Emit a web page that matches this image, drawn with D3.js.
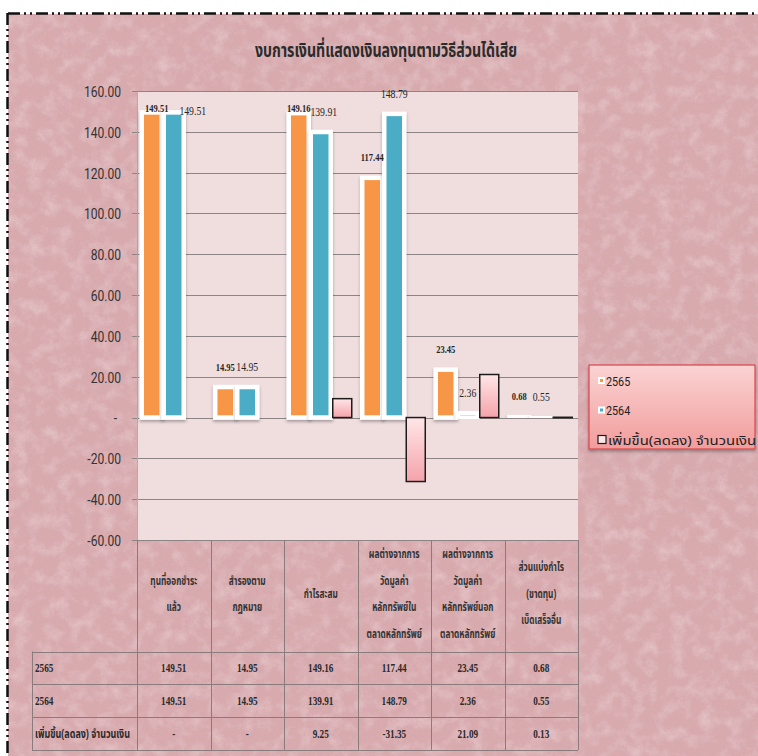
<!DOCTYPE html>
<html>
<head>
<meta charset="utf-8">
<script src="https://cdn.jsdelivr.net/npm/d3@7"></script>
<style>
  html, body { margin: 0; padding: 0; background: #fff; }
  svg { display: block; }
</style>
</head>
<body>
<div id="chart"></div>
<script>
// data
var categories = ["c1", "c2", "c3", "c4", "c5", "c6"];
var headerLines = [
    ["ทุนที่ออกชำระ", "แล้ว"],
    ["สำรองตาม", "กฎหมาย"],
    ["กำไรสะสม"],
    ["ผลต่างจากการ", "วัดมูลค่า", "หลักทรัพย์ใน", "ตลาดหลักทรัพย์"],
    ["ผลต่างจากการ", "วัดมูลค่า", "หลักทรัพย์นอก", "ตลาดหลักทรัพย์"],
    ["ส่วนแบ่งกำไร", "(ขาดทุน)", "เบ็ดเสร็จอื่น"]
];
var seriesNames = ["2565", "2564", "เพิ่มขึ้น(ลดลง) จำนวนเงิน"];
var values2565 = [149.51, 14.95, 149.16, 117.44, 23.45, 0.68];
var values2564 = [149.51, 14.95, 139.91, 148.79, 2.36, 0.55];
var valuesChange = [0, 0, 9.25, -31.35, 21.09, 0.13];
var yTicks = [-60, -40, -20, 0, 20, 40, 60, 80, 100, 120, 140, 160];
var title = "งบการเงินที่แสดงเงินลงทุนตามวิธีส่วนได้เสีย";

var W = 758, H = 756;
var margin = { top: 91, left: 137, right: 180, bottom: 216 };
var thai = "'Noto Sans Thai', 'Noto Serif Thai', Loma, Garuda, 'Tlwg Typo', 'Noto Sans', sans-serif";
var serif = "'Liberation Serif', 'Times New Roman', serif";
// plain hyphen for negatives, like the spreadsheet
var fmt = d3.formatLocale({ decimal: '.', thousands: ',', grouping: [3], currency: ['', ''], minus: '-' }).format('.2f');

var svg = d3.select('#chart').append('svg')
    .attr('width', W)
    .attr('height', H);

var defs = svg.append('defs');

// marble-ish background
var marble = defs.append('filter').attr('id', 'marble').attr('x', 0).attr('y', 0).attr('width', 1).attr('height', 1);
marble.append('feTurbulence').attr('type', 'fractalNoise').attr('baseFrequency', 0.07).attr('numOctaves', 5).attr('seed', 11);
marble.append('feColorMatrix').attr('type', 'matrix')
    .attr('values', '0 0 0 0 1  0 0 0 0 0.94  0 0 0 0 0.95  1.8 0 0 0 -0.78');

var grain = defs.append('filter').attr('id', 'grain').attr('x', 0).attr('y', 0).attr('width', 1).attr('height', 1);
grain.append('feTurbulence').attr('type', 'fractalNoise').attr('baseFrequency', 0.5).attr('numOctaves', 2).attr('seed', 3);
grain.append('feColorMatrix').attr('type', 'matrix')
    .attr('values', '0 0 0 0 0.55  0 0 0 0 0.35  0 0 0 0 0.38  1.4 0 0 0 -0.55');

var shadow = defs.append('filter').attr('id', 'shadow').attr('x', '-30%').attr('y', '-30%').attr('width', '160%').attr('height', '160%');
shadow.append('feDropShadow').attr('dx', 0).attr('dy', 2).attr('stdDeviation', 1.5).attr('flood-color', '#000').attr('flood-opacity', 0.3);

var chgGrad = defs.append('linearGradient').attr('id', 'chg').attr('x1', 0).attr('y1', 0).attr('x2', 0).attr('y2', 1);
chgGrad.append('stop').attr('offset', '0%').attr('stop-color', '#ffe6e8');
chgGrad.append('stop').attr('offset', '100%').attr('stop-color', '#f4a3aa');

var legGrad = defs.append('linearGradient').attr('id', 'leg').attr('x1', 0).attr('y1', 0).attr('x2', 0).attr('y2', 1);
legGrad.append('stop').attr('offset', '0%').attr('stop-color', '#fbd3d3');
legGrad.append('stop').attr('offset', '100%').attr('stop-color', '#f29c9c');

// page background + dashed frame
svg.append('rect').attr('x', 8).attr('y', 14).attr('width', W - 8).attr('height', H - 14).attr('fill', '#d9abaf');
svg.append('rect').attr('x', 8).attr('y', 14).attr('width', W - 8).attr('height', H - 14).attr('filter', 'url(#marble)').attr('opacity', 0.35);
svg.append('rect').attr('x', 8).attr('y', 14).attr('width', W - 8).attr('height', H - 14).attr('filter', 'url(#grain)').attr('opacity', 0.35);
svg.append('line').attr('x1', 8).attr('x2', W).attr('y1', 13.5).attr('y2', 13.5)
    .attr('stroke', '#111').attr('stroke-width', 2.5).attr('stroke-dasharray', '12 4 2 4 2 4');
svg.append('line').attr('x1', 7.5).attr('x2', 7.5).attr('y1', 13).attr('y2', H)
    .attr('stroke', '#111').attr('stroke-width', 2.5).attr('stroke-dasharray', '12 4 2 4 2 4');

// squeeze text horizontally like the original
function squish(sel, k) {
    sel.each(function () {
        var t = d3.select(this);
        var x = +t.attr('x') || 0, y = +t.attr('y') || 0;
        t.attr('x', 0).attr('y', 0).attr('transform', 'translate(' + x + ',' + y + ') scale(' + k + ',1)');
    });
}

var x0 = margin.left, x1 = W - margin.right;
var x = d3.scaleBand().domain(categories).range([x0, x1]).padding(0);
var xs = d3.scaleBand().domain(seriesNames).range([0, x.bandwidth()]).paddingInner(0).paddingOuter(0.17);
var y = d3.scaleLinear().domain([-60, 160]).range([H - margin.bottom, margin.top]);

// plot area
svg.append('rect')
    .attr('x', x0).attr('y', y(160))
    .attr('width', x1 - x0).attr('height', y(-60) - y(160))
    .attr('fill', '#f0dedf');

// gridlines
svg.append('g')
    .selectAll('line')
    .data(yTicks)
    .enter().append('line')
    .attr('x1', x0 - 5).attr('x2', x1)
    .attr('y1', function (d) { return Math.round(y(d)) + 0.5; })
    .attr('y2', function (d) { return Math.round(y(d)) + 0.5; })
    .attr('stroke', '#8f8485').attr('stroke-width', 1);

// y axis
var yAxis = svg.append('g')
    .attr('transform', 'translate(' + x0 + ',0)')
    .call(d3.axisLeft(y).tickValues(yTicks).tickSize(0)
        .tickFormat(function (d) { return d === 0 ? '-' : fmt(d); }));
yAxis.select('.domain').attr('stroke', '#b9a9aa');
yAxis.selectAll('text')
    .attr('font-family', 'Roboto, sans-serif')
    .attr('font-size', 15.5)
    .attr('fill', '#333')
    .attr('x', -16 / 0.78)
    .attr('dy', '0.35em')
    .attr('transform', 'scale(0.78,1)');
yAxis.selectAll('text').filter(function (d) { return d === 0; }).attr('x', -20 / 0.78);

// bars
var rows = categories.map(function (c, i) {
    return { cat: c, i: i, v: [values2565[i], values2564[i], valuesChange[i]] };
});
var colors = ['#f79646', '#4bacc6'];

var groups = svg.append('g').selectAll('g')
    .data(rows)
    .enter().append('g')
    .attr('transform', function (d) { return 'translate(' + x(d.cat) + ',0)'; });

groups.selectAll('rect.main')
    .data(function (d) { return [0, 1].map(function (k) { return { k: k, v: d.v[k] }; }); })
    .enter().append('rect')
    .attr('class', 'main')
    .attr('x', function (d) { return xs(seriesNames[d.k]) + 1; })
    .attr('width', xs.bandwidth() - 2)
    .attr('y', function (d) { return y(Math.max(0, d.v)); })
    .attr('height', function (d) { return Math.abs(y(d.v) - y(0)); })
    .attr('fill', function (d) { return colors[d.k]; })
    .attr('stroke', '#fff')
    .attr('stroke-width', 4.5)
    .attr('filter', 'url(#shadow)');

groups.selectAll('rect.chg')
    .data(function (d) { return d.v[2] !== 0 ? [d.v[2]] : []; })
    .enter().append('rect')
    .attr('class', 'chg')
    .attr('x', xs(seriesNames[2]) + 1)
    .attr('width', xs.bandwidth() - 3)
    .attr('y', function (d) { return y(Math.max(0, d)); })
    .attr('height', function (d) { return Math.max(0.5, Math.abs(y(d) - y(0))); })
    .attr('fill', 'url(#chg)')
    .attr('stroke', '#1c1c1c')
    .attr('stroke-width', 1.5);

// data labels (a couple of them were dragged in the original)
var nudge = { '0-0': [5, 16], '0-1': [19, 18], '2-0': [0, 15], '2-1': [3, 0] };
groups.each(function (d) {
    var g = d3.select(this);
    [0, 1].forEach(function (k) {
        var n = nudge[d.i + '-' + k] || [0, 0];
        var t = g.append('text')
            .attr('x', xs(seriesNames[k]) + xs.bandwidth() / 2 + n[0])
            .attr('y', y(d.v[k]) - 20 + n[1])
            .attr('dy', '0.35em')
            .attr('text-anchor', 'middle')
            .attr('font-family', serif)
            .attr('fill', '#262626')
            .attr('font-weight', k === 0 ? 'bold' : 'normal')
            .attr('font-size', k === 0 ? 10 : 12.5)
            .text(fmt(d.v[k]));
        squish(t, k === 0 ? 0.85 : 0.78);
    });
});

// title
svg.append('text')
    .attr('x', 386).attr('y', 50)
    .attr('dy', '0.35em')
    .attr('text-anchor', 'middle')
    .attr('font-family', thai)
    .attr('font-weight', 'bold')
    .attr('font-size', 19)
    .attr('fill', '#2b2b2b')
    .attr('textLength', 262)
    .attr('lengthAdjust', 'spacingAndGlyphs')
    .text(title);

// data table under the plot
var tTop = y(-60), tHead = 651.5, rowH = 32.8, tLeft = 32;
var table = svg.append('g').attr('stroke', '#8a7c7d').attr('stroke-width', 1);
[0, 1, 2, 3].forEach(function (r) {
    var yy = Math.round(tHead + r * rowH) + 0.5;
    table.append('line').attr('x1', tLeft).attr('x2', x1).attr('y1', yy).attr('y2', yy);
});
categories.concat([null]).forEach(function (c) {
    var xx = Math.round(c ? x(c) : x1) + 0.5;
    table.append('line').attr('x1', xx).attr('x2', xx).attr('y1', tTop).attr('y2', tHead + 3 * rowH);
});
table.append('line').attr('x1', tLeft + 0.5).attr('x2', tLeft + 0.5).attr('y1', tHead).attr('y2', tHead + 3 * rowH);

// header cells
categories.forEach(function (c, i) {
    var lines = headerLines[i];
    var cx = x(c) + x.bandwidth() / 2;
    var lh = 26.5, mid = (tTop + tHead) / 2 - 2;
    lines.forEach(function (s, j) {
        var t = svg.append('text')
            .attr('x', cx)
            .attr('y', mid + (j - (lines.length - 1) / 2) * lh)
            .attr('dy', '0.35em')
            .attr('text-anchor', 'middle')
            .attr('font-family', thai)
            .attr('font-weight', 'bold')
            .attr('font-size', 11.5)
            .attr('fill', '#333')
            .text(s);
        squish(t, 0.72);
    });
});

// table rows
var tableRows = [
    { name: seriesNames[0], vals: values2565 },
    { name: seriesNames[1], vals: values2564 },
    { name: seriesNames[2], vals: valuesChange }
];
tableRows.forEach(function (r, ri) {
    var cy = tHead + (ri + 0.5) * rowH;
    var lab = svg.append('text')
        .attr('x', tLeft + 3).attr('y', cy).attr('dy', '0.35em')
        .attr('font-family', ri === 2 ? thai : serif)
        .attr('font-weight', 'bold')
        .attr('font-size', 11.5)
        .attr('fill', '#2a2a2a')
        .text(r.name);
    squish(lab, ri === 2 ? 0.78 : 0.8);
    r.vals.forEach(function (v, i) {
        var t = svg.append('text')
            .attr('x', x(categories[i]) + x.bandwidth() / 2)
            .attr('y', cy).attr('dy', '0.35em')
            .attr('text-anchor', 'middle')
            .attr('font-family', serif)
            .attr('font-weight', 'bold')
            .attr('font-size', 11.5)
            .attr('fill', '#2a2a2a')
            .text(v === 0 ? '-' : fmt(v));
        squish(t, 0.8);
    });
});

// legend
var lg = svg.append('g').attr('transform', 'translate(589,365)');
lg.append('rect').attr('width', 166).attr('height', 84)
    .attr('fill', 'url(#leg)').attr('stroke', '#d9474c').attr('stroke-width', 1.2)
    .attr('filter', 'url(#shadow)');
seriesNames.forEach(function (s, i) {
    var row = lg.append('g').attr('transform', 'translate(0,' + (16 + i * 29.5) + ')');
    if (i < 2) {
        row.append('rect').attr('x', 9).attr('y', -4).attr('width', 7).attr('height', 7).attr('fill', '#fff');
        row.append('rect').attr('x', 11).attr('y', -2).attr('width', 3).attr('height', 3).attr('fill', colors[i]);
    } else {
        row.append('rect').attr('x', 9).attr('y', -4.5).attr('width', 8).attr('height', 8)
            .attr('fill', '#fde8e8').attr('stroke', '#1c1c1c').attr('stroke-width', 1.2);
    }
    var t = row.append('text')
        .attr('x', i < 2 ? 17 : 19).attr('y', 0).attr('dy', '0.35em')
        .attr('font-family', i < 2 ? 'Roboto, sans-serif' : thai)
        .attr('font-size', i < 2 ? 13 : 13)
        .attr('fill', '#222')
        .text(s);
    if (i < 2) squish(t, 0.83);
    else t.attr('textLength', 148).attr('lengthAdjust', 'spacingAndGlyphs');
});
</script>
</body>
</html>
